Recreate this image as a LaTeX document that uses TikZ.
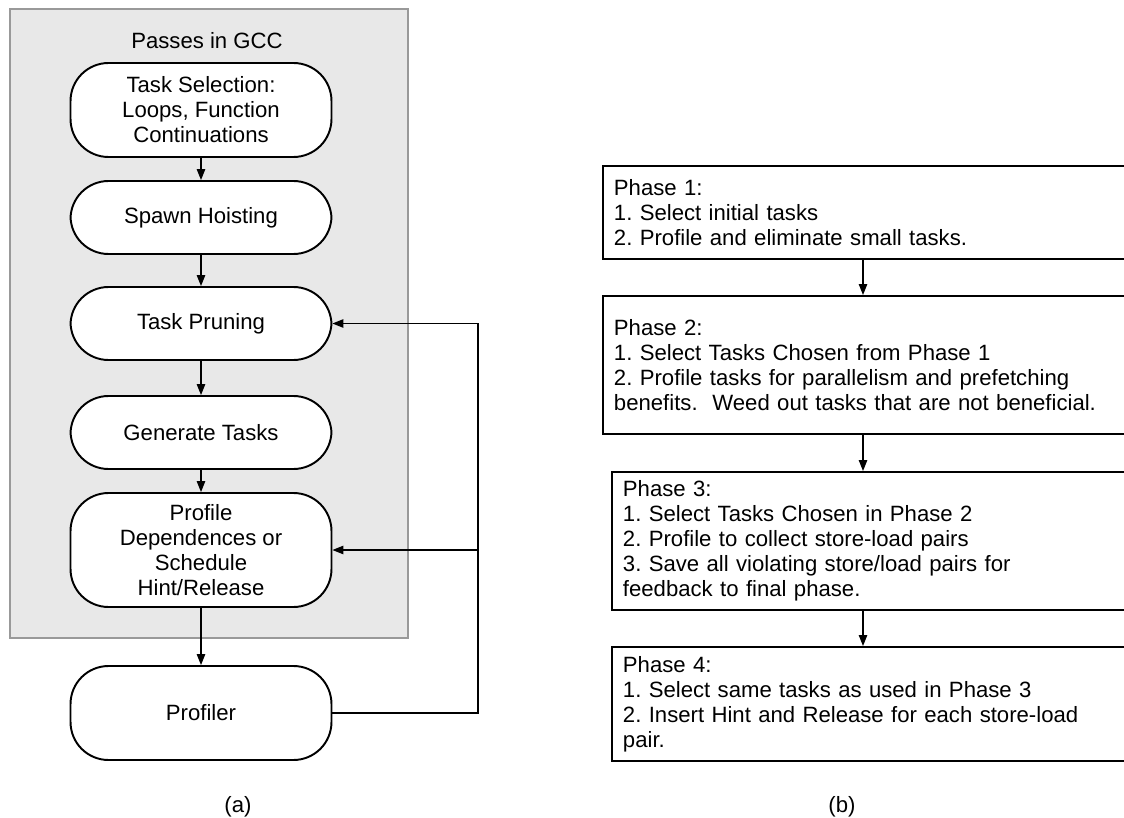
\documentclass[tikz,border=0pt]{standalone}
\usepackage{fontspec}
\setmainfont{Liberation Sans}
\usetikzlibrary{arrows.meta, positioning, calc}
\frenchspacing

\begin{document}
\begin{tikzpicture}[
        x=0.02cm, y=-0.02cm,
        font=\fontsize{12.6}{14.2}\selectfont,
        pass/.style={draw, line width=1.1pt, rounded corners=0.76cm, fill=white, minimum width=5.22cm, align=center, inner sep=0pt},
        phase/.style={draw, line width=1.1pt, fill=white, anchor=north west, text width=10.36cm, inner xsep=0.22cm, inner ysep=0pt, align=left},
        arr/.style={-{Triangle[length=0.22cm, width=0.17cm]}, line width=0.7pt}
    ]
    \useasboundingbox (0,0) rectangle (1124,817);
    \clip (0,0) rectangle (1124,817);

    % (a) passes in GCC
    \draw[draw=gray!80, fill=gray!18, line width=1.2pt] (10,9) rectangle (408,638);
    \node (gcc) at (207,41) {Passes in GCC};

    \node[pass, minimum height=1.88cm] (sel) at (201,110) {Task Selection:\\Loops, Function\\Continuations};
    \node[pass, minimum height=1.46cm] (spawn) at (201,217.5) {Spawn Hoisting};
    \node[pass, minimum height=1.46cm] (prune) at (201,323.5) {Task Pruning};
    \node[pass, minimum height=1.46cm] (gen) at (201,432.5) {Generate Tasks};
    \node[pass, minimum height=2.28cm] (prof) at (201,550) {Profile\\Dependences or\\Schedule\\Hint/Release};
    \node[pass, minimum height=1.88cm] (profiler) at (201,713) {Profiler};

    \draw[arr] (sel) -- (spawn);
    \draw[arr] (spawn) -- (prune);
    \draw[arr] (prune) -- (gen);
    \draw[arr] (gen) -- (prof);
    \draw[arr] (prof) -- (profiler);

    % feedback from the profiler
    \coordinate (fb) at (478,0);
    \draw[arr] (profiler.east) -| (fb |- prune) -- (prune.east);
    \draw[arr] (fb |- prof) -- (prof.east);

    % (b) phases
    \node[phase, minimum height=1.86cm] (ph1) at (602,165) {Phase 1:\\1. Select initial tasks\\2. Profile and eliminate small tasks.};
    \node[phase, minimum height=2.76cm] (ph2) at (602,295) {Phase 2:\\1. Select Tasks Chosen from Phase 1\\2. Profile tasks for parallelism and prefetching\\benefits.\ \ Weed out tasks that are not beneficial.};
    \node[phase, minimum height=2.76cm] (ph3) at (611,471) {Phase 3:\\1. Select Tasks Chosen in Phase 2\\2. Profile to collect store-load pairs\\3. Save all violating store/load pairs for\\feedback to final phase.};
    \node[phase, minimum height=2.28cm] (ph4) at (611,646) {Phase 4:\\1. Select same tasks as used in Phase 3\\2. Insert Hint and Release for each store-load\\pair.};

    \coordinate (col) at (863,0);
    \draw[arr] (ph1.south -| col) -- (ph2.north -| col);
    \draw[arr] (ph2.south -| col) -- (ph3.north -| col);
    \draw[arr] (ph3.south -| col) -- (ph4.north -| col);

    \node (capa) at (238,807) {(a)};
    \node (capb) at (842,807) {(b)};
\end{tikzpicture}
\end{document}
